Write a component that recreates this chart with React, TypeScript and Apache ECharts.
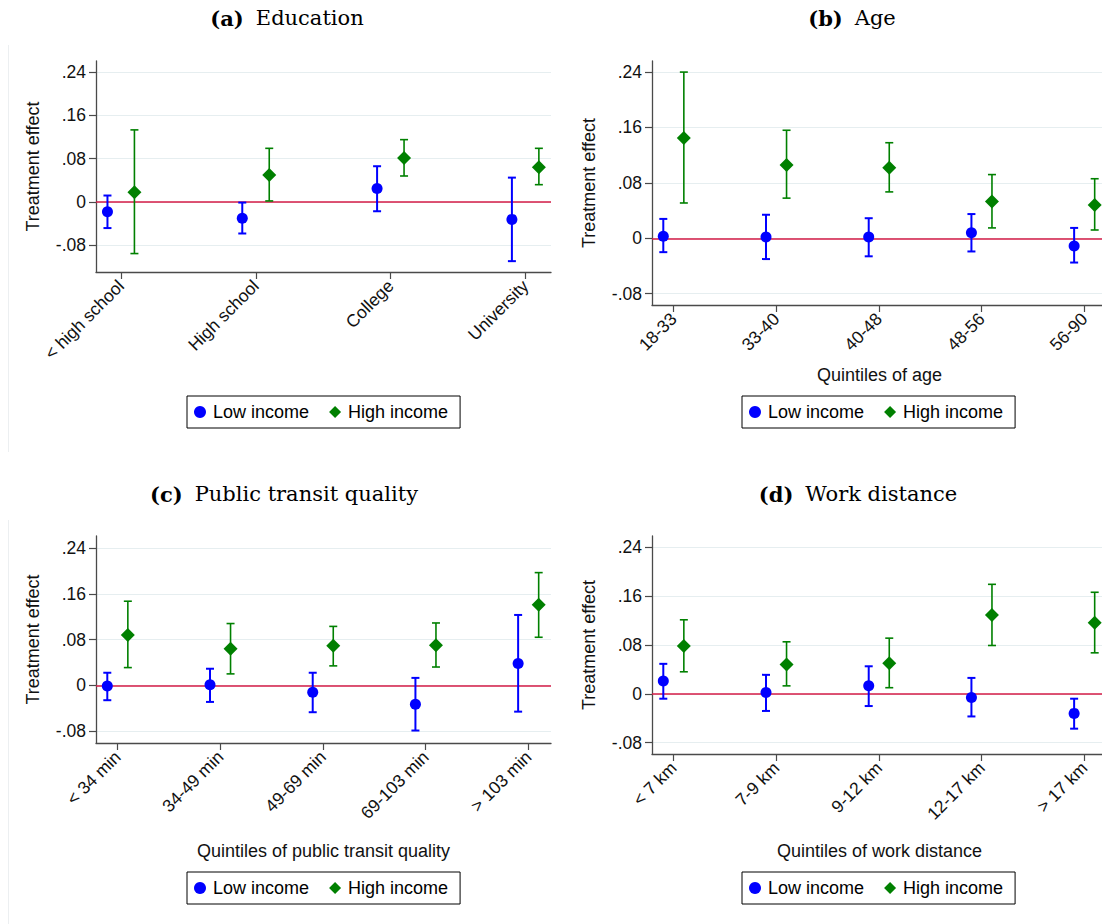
import React, { useEffect, useRef } from "react";
import * as echarts from "echarts";

// ---------- data ----------
const eduCats = ["< high school", "High school", "College", "University"];
const eduLow = [-0.018, -0.030, 0.025, -0.032];
const eduLowLo = [-0.048, -0.058, -0.017, -0.109];
const eduLowHi = [0.012, -0.001, 0.066, 0.045];
const eduHigh = [0.018, 0.050, 0.081, 0.064];
const eduHighLo = [-0.095, 0.002, 0.048, 0.032];
const eduHighHi = [0.133, 0.099, 0.115, 0.099];

const ageCats = ["18-33", "33-40", "40-48", "48-56", "56-90"];
const ageLow = [0.003, 0.002, 0.002, 0.008, -0.011];
const ageLowLo = [-0.020, -0.030, -0.026, -0.019, -0.035];
const ageLowHi = [0.028, 0.034, 0.029, 0.035, 0.015];
const ageHigh = [0.145, 0.106, 0.102, 0.053, 0.048];
const ageHighLo = [0.051, 0.058, 0.067, 0.015, 0.012];
const ageHighHi = [0.240, 0.156, 0.138, 0.092, 0.086];

const transitCats = ["< 34 min", "34-49 min", "49-69 min", "69-103 min", "> 103 min"];
const transitLow = [-0.001, 0.001, -0.012, -0.033, 0.038];
const transitLowLo = [-0.026, -0.029, -0.047, -0.079, -0.046];
const transitLowHi = [0.022, 0.029, 0.022, 0.013, 0.123];
const transitHigh = [0.088, 0.064, 0.069, 0.070, 0.141];
const transitHighLo = [0.031, 0.020, 0.034, 0.032, 0.084];
const transitHighHi = [0.147, 0.108, 0.103, 0.109, 0.197];

const distCats = ["< 7 km", "7-9 km", "9-12 km", "12-17 km", "> 17 km"];
const distLow = [0.021, 0.002, 0.013, -0.006, -0.032];
const distLowLo = [-0.008, -0.028, -0.020, -0.037, -0.057];
const distLowHi = [0.049, 0.031, 0.045, 0.026, -0.008];
const distHigh = [0.078, 0.048, 0.050, 0.129, 0.116];
const distHighLo = [0.036, 0.013, 0.010, 0.079, 0.067];
const distHighHi = [0.121, 0.085, 0.091, 0.179, 0.166];

const yTicks = [-0.08, 0, 0.08, 0.16, 0.24];
const panelTitles = [
  ["(a)", "Education"],
  ["(b)", "Age"],
  ["(c)", "Public transit quality"],
  ["(d)", "Work distance"],
];
const xTitles = ["", "Quintiles of age", "Quintiles of public transit quality", "Quintiles of work distance"];
const yTitle = "Treatment effect";
const legendNames = ["Low income", "High income"];

// ---------- style / layout ----------
const BLUE = "#0000ff";
const GREEN = "#008000";
const RED = "#d41b47";
const AXIS = "#4a4a4a";
const GRIDC = "#e6eef0";
const SANS = "'Liberation Sans', Arial, sans-serif";
const SERIF = "'DejaVu Serif', 'Liberation Serif', serif";
const OFF = 0.1;

const panels = [
  { cats: eduCats, low: eduLow, lowLo: eduLowLo, lowHi: eduLowHi, high: eduHigh, highLo: eduHighLo, highHi: eduHighHi,
    grid: { left: 96, top: 61, width: 455, height: 211 }, xmin: 0.815, xmax: 4.19, ymin: -0.129, ymax: 0.26 },
  { cats: ageCats, low: ageLow, lowLo: ageLowLo, lowHi: ageLowHi, high: ageHigh, highLo: ageHighLo, highHi: ageHighHi,
    grid: { left: 652, top: 61, width: 455, height: 244 }, xmin: 0.79, xmax: 5.22, ymin: -0.0963, ymax: 0.256 },
  { cats: transitCats, low: transitLow, lowLo: transitLowLo, lowHi: transitLowHi, high: transitHigh, highLo: transitHighLo, highHi: transitHighHi,
    grid: { left: 96, top: 536, width: 455, height: 207 }, xmin: 0.79, xmax: 5.22, ymin: -0.1008, ymax: 0.261 },
  { cats: distCats, low: distLow, lowLo: distLowLo, lowHi: distLowHi, high: distHigh, highLo: distHighLo, highHi: distHighHi,
    grid: { left: 652, top: 536, width: 455, height: 218 }, xmin: 0.79, xmax: 5.22, ymin: -0.0984, ymax: 0.258 },
];
const titlePos = [
  [287, 18], [852, 18], [284, 494], [858, 494],
];
const legendPos = [
  [187, 396], [742, 396], [187, 872], [742, 872],
];

function fmtY(v: number) {
  if (Math.abs(v) < 1e-9) return "0";
  const s = Math.abs(v).toFixed(2).replace(/^0/, "");
  return (v < 0 ? "-" : "") + s;
}

function errorBarSeries(idx: number, data: number[][], color: string, lw: number) {
  return {
    type: "custom",
    name: "ci" + idx + color,
    xAxisIndex: idx,
    yAxisIndex: idx,
    silent: true,
    z: 2,
    encode: { x: 0, y: [1, 2] },
    data,
    renderItem: (params: any, api: any) => {
      const x = api.value(0);
      const lo = api.value(1);
      const hi = api.value(2);
      const t = api.coord([x, hi]);
      const b = api.coord([x, lo]);
      const hw = 4;
      const st = { stroke: color, lineWidth: lw };
      return {
        type: "group",
        children: [
          { type: "line", shape: { x1: t[0], y1: t[1], x2: b[0], y2: b[1] }, style: st },
          { type: "line", shape: { x1: t[0] - hw, y1: t[1], x2: t[0] + hw, y2: t[1] }, style: st },
          { type: "line", shape: { x1: b[0] - hw, y1: b[1], x2: b[0] + hw, y2: b[1] }, style: st },
        ],
      };
    },
  };
}

function buildOption() {
  const grid: any[] = [];
  const xAxis: any[] = [];
  const yAxis: any[] = [];
  const series: any[] = [];
  const legend: any[] = [];
  const graphic: any[] = [];

  panels.forEach((p, i) => {
    grid.push({ ...p.grid, containLabel: false, outerBoundsMode: "none" });
    const xs = p.cats.map((_, k) => k + 1);
    xAxis.push({
      type: "value",
      gridIndex: i,
      min: p.xmin,
      max: p.xmax,
      axisLine: { show: true, onZero: false, lineStyle: { color: AXIS, width: 1.3 } },
      axisTick: { show: true, length: 7, customValues: xs, lineStyle: { color: AXIS, width: 1.2 } },
      splitLine: { show: false },
      axisLabel: {
        customValues: xs,
        rotate: 45,
        margin: 11,
        fontSize: 17.5,
        color: "#111",
        fontFamily: SANS,
        formatter: (v: number) => p.cats[Math.round(v) - 1] ?? "",
      },
    });
    yAxis.push({
      type: "value",
      gridIndex: i,
      min: p.ymin,
      max: p.ymax,
      axisLine: { show: true, onZero: false, lineStyle: { color: AXIS, width: 1.3 } },
      axisTick: { show: true, length: 7, customValues: yTicks, lineStyle: { color: AXIS, width: 1.2 } },
      splitLine: { show: true, lineStyle: { color: GRIDC, width: 1.2 } },
      axisLabel: {
        customValues: yTicks,
        margin: 10,
        fontSize: 17.5,
        color: "#111",
        fontFamily: SANS,
        formatter: fmtY,
      },
    });

    const lowCI = p.low.map((_, k) => [k + 1 - OFF, p.lowLo[k], p.lowHi[k]]);
    const highCI = p.high.map((_, k) => [k + 1 + OFF, p.highLo[k], p.highHi[k]]);
    series.push(errorBarSeries(i, lowCI, BLUE, 2));
    series.push(errorBarSeries(i, highCI, GREEN, 1.6));
    series.push({
      type: "scatter",
      name: legendNames[0],
      xAxisIndex: i,
      yAxisIndex: i,
      symbol: "circle",
      symbolSize: 11,
      z: 4,
      itemStyle: { color: BLUE, opacity: 1 },
      data: p.low.map((v, k) => [k + 1 - OFF, v]),
      markLine: {
        silent: true,
        symbol: ["none", "none"],
        label: { show: false },
        lineStyle: { color: RED, width: 1.6, type: "solid" },
        data: [{ yAxis: 0 }],
        z: 1,
      },
    });
    series.push({
      type: "scatter",
      name: legendNames[1],
      xAxisIndex: i,
      yAxisIndex: i,
      symbol: "diamond",
      symbolSize: 14,
      z: 4,
      itemStyle: { color: GREEN, opacity: 1 },
      data: p.high.map((v, k) => [k + 1 + OFF, v]),
    });

    legend.push({
      left: legendPos[i][0],
      top: legendPos[i][1],
      orient: "horizontal",
      borderColor: "#000",
      borderWidth: 1,
      padding: [7, 12, 7, 7],
      itemGap: 20,
      itemWidth: 12,
      itemHeight: 12,
      selectedMode: false,
      textStyle: { fontSize: 18, color: "#000", fontFamily: SANS, padding: [0, 0, 0, 2] },
      data: [
        { name: legendNames[0], icon: "circle" },
        { name: legendNames[1], icon: "diamond" },
      ],
    });

    // panel title
    graphic.push({
      type: "text",
      x: titlePos[i][0],
      y: titlePos[i][1],
      style: {
        text: "{b|" + panelTitles[i][0] + "}{n|" + panelTitles[i][1] + "}",
        align: "center",
        verticalAlign: "middle",
        rich: {
          b: { fontFamily: SERIF, fontWeight: "bold", fontSize: 21, fill: "#000", padding: [0, 12, 0, 0] },
          n: { fontFamily: SERIF, fontSize: 21, fill: "#000" },
        },
      },
    });
    // y axis title
    const g = p.grid;
    graphic.push({
      type: "text",
      x: g.left - 63,
      y: g.top + g.height / 2,
      rotation: Math.PI / 2,
      style: {
        text: yTitle,
        align: "center",
        verticalAlign: "middle",
        font: "18px " + SANS,
        fill: "#111",
      },
    });
    if (xTitles[i]) {
      graphic.push({
        type: "text",
        x: g.left + g.width / 2,
        y: i === 1 ? 375 : 851,
        style: {
          text: xTitles[i],
          align: "center",
          verticalAlign: "middle",
          font: "18px " + SANS,
          fill: "#111",
        },
      });
    }
  });

  // faint panel borders on the left
  graphic.push({ type: "line", shape: { x1: 8.5, y1: 45, x2: 8.5, y2: 452 }, style: { stroke: "#eceff1", lineWidth: 1 } });
  graphic.push({ type: "line", shape: { x1: 8.5, y1: 520, x2: 8.5, y2: 924 }, style: { stroke: "#eceff1", lineWidth: 1 } });

  return {
    animation: false,
    backgroundColor: "#ffffff",
    grid,
    xAxis,
    yAxis,
    series,
    legend,
    graphic,
  };
}

export default function App() {
  const ref = useRef<HTMLDivElement>(null);
  useEffect(() => {
    if (!ref.current) return;
    const chart = echarts.init(ref.current, null, { renderer: "svg" });
    chart.setOption(buildOption() as any);
    return () => chart.dispose();
  }, []);
  return (
    <div
      ref={ref}
      style={{ position: "fixed", left: 0, top: 0, width: 1102, height: 924, background: "#fff" }}
    />
  );
}
